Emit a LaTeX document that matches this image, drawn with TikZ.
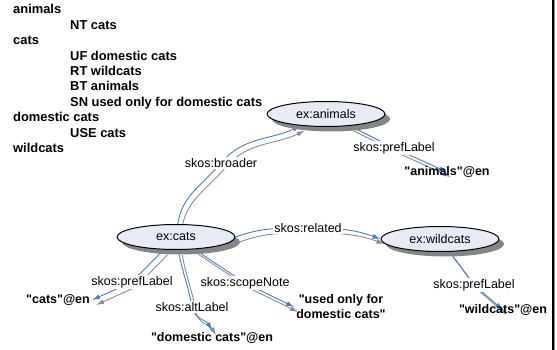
\documentclass[tikz,border=0pt]{standalone}
\usepackage{fontspec}
\setmainfont{Liberation Sans}
\usetikzlibrary{arrows.meta,shapes.geometric,shadows,backgrounds}

\definecolor{linkblue}{HTML}{4A7CC9}
\definecolor{linkgray}{HTML}{8C8C8C}
\definecolor{conceptfill}{HTML}{E7EBF6}
\newcommand{\dq}{\textquotedbl}

\begin{document}
\begin{tikzpicture}[x=1pt, y=1pt, line cap=round, line join=round,
	concept/.style={ellipse, draw=black, line width=1pt, fill=conceptfill, minimum width=118pt, minimum height=25pt, inner sep=0pt,
		font=\fontsize{12.5}{15}\selectfont,
		drop shadow={shadow xshift=5pt, shadow yshift=-5pt, fill=black!48, opacity=1}},
	literal/.style={font=\fontsize{12.5}{15}\selectfont\bfseries, align=center, inner sep=2pt},
	prop/.style={font=\fontsize{12.5}{15}\selectfont, fill=white, inner sep=1pt},
	entry/.style={font=\fontsize{12.9}{15.4}\selectfont\bfseries, inner sep=0pt, anchor=base west},
	link/.style={draw=linkblue, line width=0.9pt, -{Latex[length=8pt,width=5pt]}},
	linkshadow/.style={draw=linkgray, line width=0.9pt, -{Latex[length=8pt,width=5pt]}, transform canvas={shift={(4pt,-5pt)}}}]
	\useasboundingbox (0,0) rectangle (557,-350);

	% thesaurus entries
	\foreach \gap/\term [count=\i from 0] in {0/animals, 57/NT cats, 0/cats, 57/UF domestic cats, 57/RT wildcats,
		57/BT animals, 57/SN used only for domestic cats, 0/domestic cats, 57/USE cats, 0/wildcats}
		\node[entry] (entry\i) at ({13+\gap}, {-14-15.4*\i}) {\term};

	% concepts
	\node[concept] (animals) at (326,-114) {ex:animals};
	\node[concept] (cats) at (176,-237) {ex:cats};
	\node[concept] (wildcats) at (440,-239) {ex:wildcats};

	% literals
	\node[literal] (animalsLit) at (447,-172) {\dq animals\dq @en};
	\node[literal] (catsLit) at (58,-300) {\dq cats\dq @en};
	\node[literal] (domesticLit) at (212,-338) {\dq domestic cats\dq @en};
	\node[literal] (noteLit) at (341,-307) {\dq used only for\\domestic cats\dq};
	\node[literal] (wildcatsLit) at (503,-310) {\dq wildcats\dq @en};

	% properties
	\node[prop] (broader) at (221,-163) {skos:broader};
	\node[prop] (prefAnimals) at (394,-148) {skos:prefLabel};
	\node[prop] (related) at (308,-228) {skos:related};
	\node[prop] (prefCats) at (132,-282) {skos:prefLabel};
	\node[prop] (scopeNote) at (245,-283) {skos:scopeNote};
	\node[prop] (altLabel) at (192,-307) {skos:altLabel};
	\node[prop] (prefWildcats) at (474,-285) {skos:prefLabel};

	\begin{pgfonlayer}{background}
		\foreach \pen in {linkshadow, link} {
			\draw[\pen] (cats) to[out=82, in=230] (broader.center) to[out=50, in=205] (animals);
			\draw[\pen] (animals) -- (prefAnimals.center) -- (animalsLit.center);
			\draw[\pen] (cats.east) to[out=20, in=180] (related.center) to[out=0, in=160] (wildcats.west);
			\draw[\pen] (cats) -- (prefCats.center) -- (catsLit.east);
			\draw[\pen] (cats) -- (scopeNote.center) -- (noteLit.west);
			\draw[\pen] (cats) to[out=-80, in=100] (altLabel.center) to[out=-80, in=120] (domesticLit.north);
			\draw[\pen] (wildcats) -- (prefWildcats.center) -- (wildcatsLit.center);
		}
	\end{pgfonlayer}

	% page edge
	\draw[line width=2pt] (552.7,0) -- (552.7,-350);
	\draw[linkgray, line width=1pt] (554.2,0) -- (554.2,-350);
\end{tikzpicture}
\end{document}
